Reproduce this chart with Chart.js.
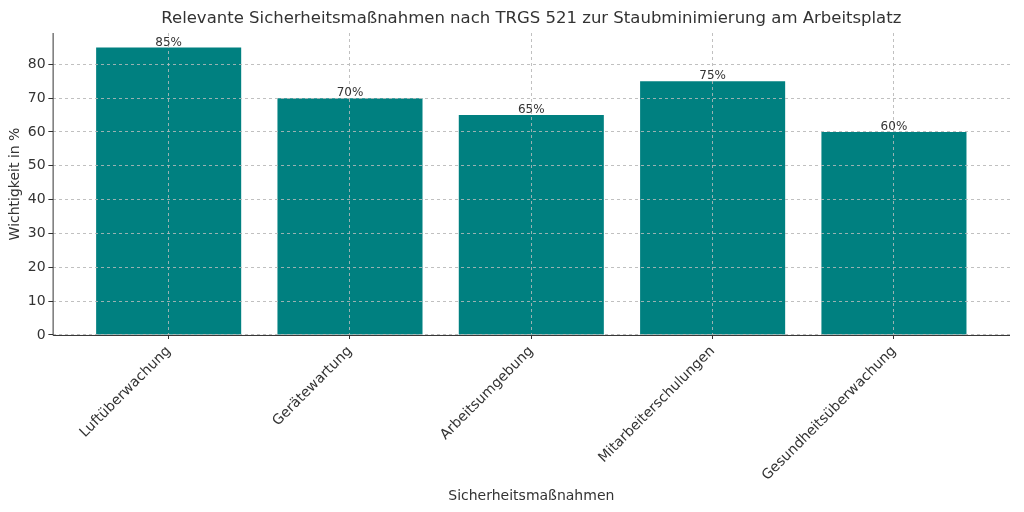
<!DOCTYPE html>
<html>
<head>
<meta charset="utf-8">
<script src="https://cdn.jsdelivr.net/npm/chart.js@4"></script>
<style>
  html, body { margin: 0; padding: 0; background: #fff; }
  #wrap { width: 1024px; height: 512px; }
</style>
</head>
<body>
<div id="wrap"><canvas id="chart" width="1024" height="512"></canvas></div>
<script>
// chart data
const categories = ["Luftüberwachung", "Gerätewartung", "Arbeitsumgebung", "Mitarbeiterschulungen", "Gesundheitsüberwachung"];
const importance = [85, 70, 65, 75, 60];
const yTicks = [0, 10, 20, 30, 40, 50, 60, 70, 80];
const chartTitle = 'Relevante Sicherheitsmaßnahmen nach TRGS 521 zur Staubminimierung am Arbeitsplatz';

const txt = '#333333';
const gridCol = 'rgba(190,190,190,0.8)';

// grid goes on top of the bars (like the original), then solid spines, value labels, title
const overlay = {
    id: 'overlay',
    afterDatasetsDraw(chart) {
        const ctx = chart.ctx;
        const a = chart.chartArea;
        chart.scales.x.drawGrid(a);
        chart.scales.y.drawGrid(a);
        ctx.save();
        ctx.strokeStyle = '#333';
        ctx.lineWidth = 1;
        ctx.setLineDash([]);
        ctx.beginPath();
        ctx.moveTo(a.left + 0.5, a.top);
        ctx.lineTo(a.left + 0.5, a.bottom + 0.5);
        ctx.lineTo(a.right, a.bottom + 0.5);
        ctx.stroke();
        const meta = chart.getDatasetMeta(0);
        ctx.font = '12px "DejaVu Sans"';
        ctx.fillStyle = txt;
        ctx.textAlign = 'center';
        ctx.textBaseline = 'bottom';
        meta.data.forEach((bar, i) => {
            ctx.fillText(importance[i] + '%', bar.x, bar.y + 1);
        });
        // title centred over the plot area, matplotlib style
        ctx.font = '16.5px "DejaVu Sans"';
        ctx.textBaseline = 'middle';
        ctx.fillText(chartTitle, (a.left + a.right) / 2, 19);
        ctx.restore();
    }
};

new Chart(document.getElementById('chart'), {
    type: 'bar',
    data: {
        datasets: [{
            data: importance.map((v, i) => ({ x: i, y: v })),
            backgroundColor: '#008080',
            barPercentage: 0.8,
            categoryPercentage: 1.0
        }]
    },
    options: {
        responsive: false,
        animation: false,
        layout: { padding: { top: 33, right: 14, left: 7, bottom: 7 } },
        plugins: {
            legend: { display: false },
            tooltip: { enabled: false },
            title: { display: false }
        },
        scales: {
            x: {
                type: 'linear',
                offset: false,
                min: -0.64,
                max: 4.64,
                afterBuildTicks: axis => { axis.ticks = categories.map((c, i) => ({ value: i })); },
                ticks: {
                    callback: (v) => categories[v],
                    color: txt,
                    font: { family: 'DejaVu Sans', size: 14 },
                    maxRotation: 45,
                    minRotation: 45,
                    padding: 4
                },
                grid: {
                    color: gridCol,
                    tickColor: '#333',
                    tickLength: 4,
                    offset: false
                },
                border: { display: false, dash: [3, 3] },
                title: {
                    display: true,
                    text: 'Sicherheitsmaßnahmen',
                    color: txt,
                    font: { family: 'DejaVu Sans', size: 14 },
                    padding: { top: 0, bottom: 0 }
                }
            },
            y: {
                min: 0,
                max: 89.25,
                afterBuildTicks: axis => { axis.ticks = yTicks.map(v => ({ value: v })); },
                ticks: {
                    color: txt,
                    font: { family: 'DejaVu Sans', size: 14 },
                    padding: 3
                },
                grid: {
                    color: gridCol,
                    tickColor: '#333',
                    tickLength: 4
                },
                border: { display: false, dash: [3, 3] },
                title: {
                    display: true,
                    text: 'Wichtigkeit in %',
                    color: txt,
                    font: { family: 'DejaVu Sans', size: 14 },
                    padding: { top: 0, bottom: 1 }
                }
            }
        }
    },
    plugins: [overlay]
});
</script>
</body>
</html>
